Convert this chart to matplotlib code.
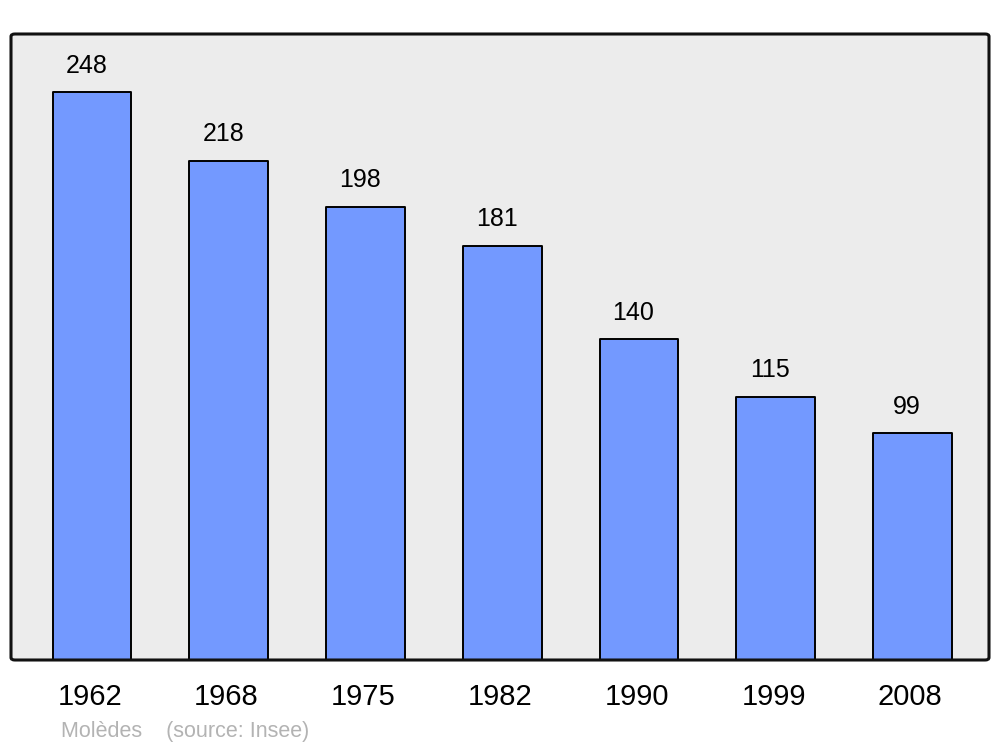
import matplotlib
matplotlib.use("Agg")
import matplotlib.pyplot as plt
from matplotlib.patches import FancyBboxPatch
import numpy as np

years = ["1962", "1968", "1975", "1982", "1990", "1999", "2008"]
population = [248, 218, 198, 181, 140, 115, 99]
caption = "Molèdes    (source: Insee)"

plt.rcParams['font.family'] = ['Liberation Sans', 'DejaVu Sans']

fig = plt.figure(figsize=(10, 7.47), dpi=100)
ax = fig.add_axes([0.011, 87 / 747, 0.978, 626 / 747])
ax.patch.set_visible(False)

# rounded frame with grey background
frame_bg = FancyBboxPatch((0, 0), 1, 1, boxstyle='round,pad=0,rounding_size=0.004',
                          transform=ax.transAxes, facecolor='#ececec',
                          edgecolor='none', zorder=0, clip_on=False)
ax.add_patch(frame_bg)

x = np.arange(len(years))
bars = ax.bar(x, population, width=0.575, color='#7399ff',
              edgecolor='black', linewidth=1.4, zorder=2)
for b in bars:
    b.set_joinstyle('round')

frame = FancyBboxPatch((0, 0), 1, 1, boxstyle='round,pad=0,rounding_size=0.004',
                       transform=ax.transAxes, facecolor='none',
                       edgecolor='#111111', linewidth=2.2, zorder=3, clip_on=False)
ax.add_patch(frame)

# value labels above each bar
for xi, v in zip(x, population):
    ax.annotate(str(v), (xi, v), xytext=(-4, 14), textcoords='offset points',
                ha='center', va='baseline', fontsize=18)

# year labels below the axis
for xi, y in zip(x, years):
    ax.annotate(y, (xi, 0), xytext=(-1.5, -32.5), textcoords='offset points',
                ha='center', va='baseline', fontsize=21, annotation_clip=False)

ax.set_xlim(-0.592, 6.56)
ax.set_ylim(0, 273.4)
ax.set_xticks([])
ax.set_yticks([])
for s in ax.spines.values():
    s.set_visible(False)

fig.text(0.061, 1 - 737 / 747, caption, fontsize=15.5, color='#b3b3b3',
         va='baseline', ha='left')

fig.savefig('out.png', dpi=100)
